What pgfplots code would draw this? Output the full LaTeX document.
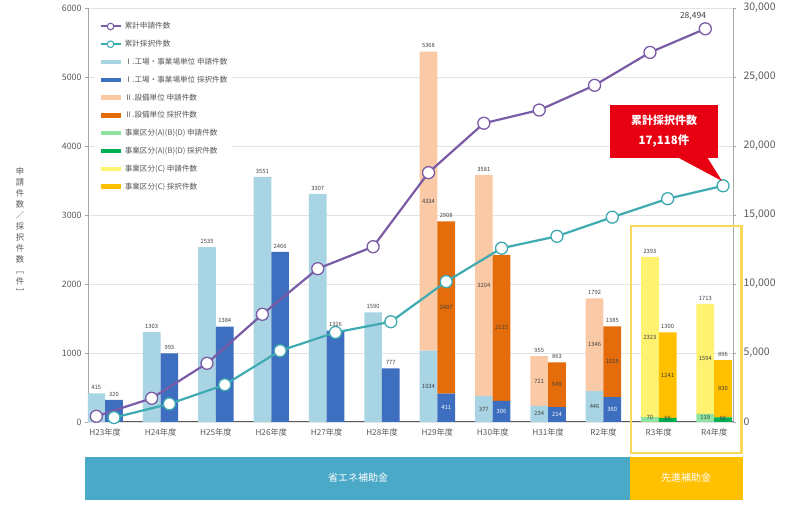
\documentclass[border=0pt]{standalone}
\usepackage{fontspec}
\setmainfont{Noto Sans CJK JP}
\usepackage{pgfplots}
\usepackage{pgfplotstable}
\pgfplotsset{compat=1.18}
\definecolor{cIa}{HTML}{A9D4E4}
\definecolor{cIb}{HTML}{3D6EBF}
\definecolor{cIIa}{HTML}{FAC9A6}
\definecolor{cIIb}{HTML}{E46C0A}
\definecolor{cABDa}{HTML}{8FE3A2}
\definecolor{cABDb}{HTML}{00B050}
\definecolor{cCa}{HTML}{FFF270}
\definecolor{cCb}{HTML}{FFC000}
\definecolor{cPur}{HTML}{7A5CA6}
\definecolor{cTeal}{HTML}{3EAAB2}
\definecolor{cBand}{HTML}{4BA9C8}
\definecolor{cFrame}{HTML}{F9D85C}
\definecolor{cRed}{HTML}{E60012}
\definecolor{txt}{HTML}{595959}
\definecolor{lab}{HTML}{404040}

\pgfplotstableread{
x Ia IIa ABDa Ca Ib IIb ABDb Cb
0 415 0 0 0 320 0 0 0
1 1303 0 0 0 993 0 0 0
2 2535 0 0 0 1384 0 0 0
3 3551 0 0 0 2466 0 0 0
4 3307 0 0 0 1326 0 0 0
5 1590 0 0 0 777 0 0 0
6 1034 4334 0 0 411 2497 0 0
7 377 3204 0 0 306 2115 0 0
8 234 721 0 0 214 649 0 0
9 446 1346 0 0 360 1025 0 0
10 0 0 70 2323 0 0 59 1241
11 0 0 119 1594 0 0 66 830
}\bars

\pgfplotstableread{
x capp cadp
0 415 320
1 1718 1313
2 4253 2697
3 7804 5163
4 11111 6489
5 12701 7266
6 18069 10174
7 21650 12595
8 22605 13458
9 24397 14843
10 26781 16180
11 28494 17118
}\cum

\pgfplotstableread{
x app adp
0 415 320
1 1303 993
2 2535 1384
3 3551 2466
4 3307 1326
5 1590 777
6 5368 2908
7 3581 2421
8 955 863
9 1792 1385
10 2393 1300
11 1713 896
}\tot

\pgfplotstableread{
x y lab
6 517 1034
6 3201 4334
7 188 377
7 1979 3204
8 117 234
8 594 721
9 223 446
9 1119 1346
10 60 70
10 1231 2323
11 60 119
11 916 1594
}\segapp

\pgfplotstableread{
x y lab
6 1660 2497
7 1364 2115
8 539 649
9 872 1025
10 50 59
10 680 1241
11 50 66
11 481 830
}\segadp

\pgfplotstableread{
x y lab
6 205 411
7 153 306
8 107 214
9 180 360
}\segadpw

\pgfplotsset{
  common/.style={at={(0,0)}, anchor=south west, scale only axis,
    width=645pt, height=414pt, xmin=-0.31, xmax=11.34},
  barlegend/.style={legend image code/.code={\draw[##1, line width=4.5pt] (0pt,0pt) -- (20pt,0pt);}},
  linelegend/.style={legend image code/.code={\draw[##1, line width=2pt] (0pt,0pt) -- (20pt,0pt); \draw[##1, fill=white, line width=1.1pt] (10pt,0pt) circle (3.3pt);}},
}

\begin{document}
\begin{tikzpicture}
\path[use as bounding box] (-88pt,-84pt) rectangle (700pt,422pt);

% application bars
\begin{axis}[common, ymin=0, ymax=6000,
  ybar stacked, bar width=17.7pt, bar shift=-8.85pt,
  axis x line*=bottom, axis y line*=left,
  axis line style={-, draw=gray!70, line width=0.8pt},
  x axis line style={draw=txt, line width=1pt},
  xtick={0,...,11},
  xticklabels={H23年度,H24年度,H25年度,H26年度,H27年度,H28年度,H29年度,H30年度,H31年度,R2年度,R3年度,R4年度},
  x tick style={draw=none},
  xticklabel style={font=\fontsize{8.2}{9}\selectfont, text=txt},
  ytick={0,1000,...,6000},
  yticklabel style={font=\fontsize{8.8}{10}\selectfont, text=txt},
  ymajorgrids, grid style={draw=gray!22, line width=0.6pt},
  tick align=outside, y tick style={draw=gray!70, line width=0.8pt}, major tick length=3pt,
  /pgf/number format/1000 sep={}, /pgf/number format/assume math mode=true,
  legend style={at={(0.011,0.975)}, anchor=north west, draw=none, fill=white,
    font=\fontsize{7.6}{8.5}\selectfont, text=txt, row sep=5.9pt},
  legend cell align=left,
]
\addlegendimage{linelegend, cPur}\addlegendentry{累計申請件数}
\addlegendimage{linelegend, cTeal}\addlegendentry{累計採択件数}
\addlegendimage{barlegend, cIa}\addlegendentry{Ⅰ.工場・事業場単位 申請件数}
\addlegendimage{barlegend, cIb}\addlegendentry{Ⅰ.工場・事業場単位 採択件数}
\addlegendimage{barlegend, cIIa}\addlegendentry{Ⅱ.設備単位 申請件数}
\addlegendimage{barlegend, cIIb}\addlegendentry{Ⅱ.設備単位 採択件数}
\addlegendimage{barlegend, cABDa}\addlegendentry{事業区分(A)(B)(D) 申請件数}
\addlegendimage{barlegend, cABDb}\addlegendentry{事業区分(A)(B)(D) 採択件数}
\addlegendimage{barlegend, cCa}\addlegendentry{事業区分(C) 申請件数}
\addlegendimage{barlegend, cCb}\addlegendentry{事業区分(C) 採択件数}
\addplot[forget plot, fill=cIa, draw=none] table[x=x, y=Ia]{\bars};
\addplot[forget plot, fill=cABDa, draw=none] table[x=x, y=ABDa]{\bars};
\addplot[forget plot, fill=cIIa, draw=none] table[x=x, y=IIa]{\bars};
\addplot[forget plot, fill=cCa, draw=none] table[x=x, y=Ca]{\bars};
\end{axis}

% adoption bars
\begin{axis}[common, ymin=0, ymax=6000, hide axis,
  ybar stacked, bar width=17.7pt, bar shift=8.85pt]
\addplot[fill=cIb, draw=none] table[x=x, y=Ib]{\bars};
\addplot[fill=cABDb, draw=none] table[x=x, y=ABDb]{\bars};
\addplot[fill=cIIb, draw=none] table[x=x, y=IIb]{\bars};
\addplot[fill=cCb, draw=none] table[x=x, y=Cb]{\bars};
\end{axis}

% value labels
\begin{axis}[common, ymin=0, ymax=6000, hide axis, clip=false,
  nodes near coords style={font=\fontsize{5.8}{6.5}\selectfont, text=lab, inner sep=1pt}]
\addplot[only marks, mark=*, mark size=0pt, point meta=explicit symbolic,
  nodes near coords, nodes near coords style={anchor=south, yshift=2.5pt}]
  table[x expr=\thisrow{x}-0.16, y=app, meta=app]{\tot};
\addplot[only marks, mark=*, mark size=0pt, point meta=explicit symbolic,
  nodes near coords, nodes near coords style={anchor=south, yshift=2.5pt}]
  table[x expr=\thisrow{x}+0.16, y=adp, meta=adp]{\tot};
\addplot[only marks, mark=*, mark size=0pt, point meta=explicit symbolic,
  nodes near coords, nodes near coords style={anchor=center}]
  table[x expr=\thisrow{x}-0.16, y=y, meta=lab]{\segapp};
\addplot[only marks, mark=*, mark size=0pt, point meta=explicit symbolic,
  nodes near coords, nodes near coords style={anchor=center}]
  table[x expr=\thisrow{x}+0.16, y=y, meta=lab]{\segadp};
\addplot[only marks, mark=*, mark size=0pt, point meta=explicit symbolic,
  nodes near coords, nodes near coords style={anchor=center, text=white}]
  table[x expr=\thisrow{x}+0.16, y=y, meta=lab]{\segadpw};
\end{axis}

% cumulative lines (right axis)
\begin{axis}[common, ymin=0, ymax=30000, clip=false,
  axis x line=none, axis y line*=right,
  axis line style={-, draw=gray!70, line width=0.8pt},
  ytick={0,5000,...,30000},
  tick align=outside, y tick style={draw=gray!70, line width=0.8pt}, major tick length=3pt,
  yticklabel style={font=\fontsize{10.5}{12}\selectfont, text=txt, xshift=4pt},
  scaled y ticks=false,
  /pgf/number format/1000 sep={,}, /pgf/number format/assume math mode=true]
\addplot[cPur, line width=2.2pt, mark=*, mark size=6pt,
  mark options={fill=white, draw=cPur, line width=1.3pt}]
  table[x expr=\thisrow{x}-0.16, y=capp]{\cum};
\addplot[cTeal, line width=2.2pt, mark=*, mark size=6pt,
  mark options={fill=white, draw=cTeal, line width=1.3pt}]
  table[x expr=\thisrow{x}+0.16, y=cadp]{\cum};
\end{axis}

% decorations
\node[font=\fontsize{8.5}{10}\selectfont, text=lab] at (605pt,406pt) {28,494};
\fill[cRed] (522pt,264pt) rectangle (630pt,317pt);
\fill[cRed] (589pt,265pt) -- (619pt,265pt) -- (634pt,241pt) -- cycle;
\node[font=\bfseries\fontsize{11}{13}\selectfont, text=white] at (576pt,302pt) {累計採択件数};
\node[font=\bfseries\fontsize{11.5}{13}\selectfont, text=white] at (576pt,281pt) {17,118件};

\fill[cBand] (-3pt,-35pt) rectangle (542pt,-78pt);
\fill[cCb] (542pt,-35pt) rectangle (655pt,-78pt);
\node[font=\fontsize{10}{12}\selectfont, text=white] at (270pt,-56pt) {省エネ補助金};
\node[font=\fontsize{10}{12}\selectfont, text=white] at (598pt,-56pt) {先進補助金};
\draw[cFrame, line width=2.5pt] (543pt,-31pt) rectangle (653.5pt,196pt);

\node[font=\fontsize{8.3}{11}\selectfont, text=txt, align=center, inner sep=0pt] at (-68pt,190pt)
  {申\\請\\件\\数\\／\\採\\択\\件\\数\\﹇\\件\\﹈};
\end{tikzpicture}
\end{document}
